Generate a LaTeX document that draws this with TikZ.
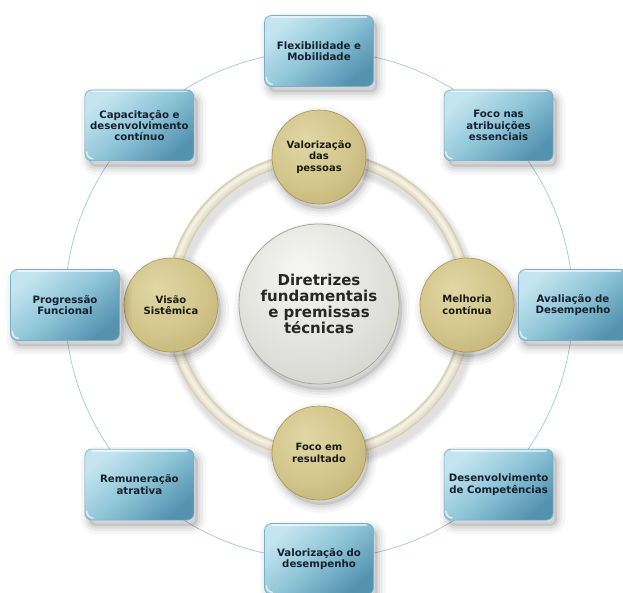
\documentclass[tikz,border=0pt]{standalone}
\usepackage{fontspec}
\setmainfont{DejaVu Sans}
\definecolor{boxlight}{HTML}{C4E5F0}
\definecolor{boxmid}{HTML}{8EC4D7}
\definecolor{boxdark}{HTML}{5493B0}
\definecolor{boxedge}{HTML}{7AB0C6}
\definecolor{boxtext}{HTML}{15202C}
\definecolor{goldin}{HTML}{E0D7A6}
\definecolor{goldmid}{HTML}{D3C68C}
\definecolor{goldout}{HTML}{B09D5A}
\definecolor{goldedge}{HTML}{A5924F}
\definecolor{goldtext}{HTML}{1C1A12}
\definecolor{ringa}{HTML}{D6CFB0}
\definecolor{ringb}{HTML}{F3F0E4}
\definecolor{grayin}{HTML}{F6F6F4}
\definecolor{graymid}{HTML}{DFDFDB}
\definecolor{grayout}{HTML}{BEBEB9}
\definecolor{grayedge}{HTML}{A9A693}
\definecolor{orbit}{HTML}{A9C7D3}
\definecolor{centertext}{HTML}{262626}
\pgfdeclareradialshading{goldball}{\pgfpoint{-8bp}{10bp}}{color(0bp)=(goldin); color(22bp)=(goldmid); color(52bp)=(goldout); color(70bp)=(goldout)}
\pgfdeclareradialshading{grayball}{\pgfpoint{-6bp}{12bp}}{color(0bp)=(grayin); color(25bp)=(graymid); color(56bp)=(grayout); color(72bp)=(grayout)}
\begin{document}
\begin{tikzpicture}[x=1pt,y=1pt,
  softshadow/.style={
    preaction={draw=black, draw opacity=0.035, line width=16pt, transform canvas={shift={(#1)}}},
    preaction={draw=black, draw opacity=0.045, line width=10pt, transform canvas={shift={(#1)}}},
    preaction={draw=black, draw opacity=0.06, line width=5pt, fill=black, fill opacity=0.10, transform canvas={shift={(#1)}}}},
  box/.style={rectangle, rounded corners=7pt, minimum width=109pt, minimum height=71pt,
    inner sep=2pt, softshadow={4pt,-6pt},
    top color=boxlight, bottom color=boxdark, middle color=boxmid, shading angle=40,
    draw=boxedge, line width=0.7pt, align=center, text=boxtext,
    font=\fontsize{10.2}{11.2}\selectfont\bfseries,
    path picture={\draw[white, opacity=0.6, line width=1.6pt, line cap=round]
      ([xshift=7pt,yshift=-1.6pt]path picture bounding box.north west) --
      ([xshift=-7pt,yshift=-1.6pt]path picture bounding box.north east);
      \draw[white, opacity=0.7, line width=1.4pt, line cap=round]
      ([xshift=1.8pt,yshift=9pt]path picture bounding box.south west) to[out=-90,in=180]
      ([xshift=8pt,yshift=2.2pt]path picture bounding box.south west);}},
  gold/.style={circle, minimum size=94pt, inner sep=0pt, softshadow={3pt,-5pt}, shading=goldball,
    draw=goldedge, line width=0.6pt, align=center, text=goldtext,
    font=\fontsize{10}{11.5}\selectfont\bfseries},
  hub/.style={circle, minimum size=160pt, inner sep=0pt, softshadow={3pt,-6pt}, shading=grayball,
    draw=grayedge, line width=0.8pt, align=center, text=centertext,
    font=\fontsize{15}{16}\selectfont\bfseries},
  orbitline/.style={draw=orbit, line width=0.7pt},
  ringshade/.style={draw=black, opacity=0.04}
]
\useasboundingbox (0,0) rectangle (623,593);
\fill[white] (0,0) rectangle (623,593);
\coordinate (C) at (319,288);
% outer orbit
\draw[orbitline] (C) circle[radius=254];
% inner ring shadow
\foreach \w in {22,18,14}{
  \draw[ringshade, line width=\w pt] ([shift={(3,-6)}]C) circle[radius=148];
}
% inner ring tube
\draw[draw=ringa, line width=11pt] (C) circle[radius=148];
\draw[draw=ringb!55!ringa, line width=8pt] (C) circle[radius=148];
\draw[draw=ringb!80!ringa, line width=5pt] ([shift={(-0.3,0.5)}]C) circle[radius=148];
\draw[draw=ringb, line width=2.5pt] ([shift={(-0.6,1)}]C) circle[radius=148];
% centre
\node[hub] (hub) at ([shift={(0,1)}]C) {Diretrizes\\fundamentais\\e premissas\\técnicas};
% gold circles
\node[gold] (g1) at ([shift={(90:148)}]C) {Valorização\\das\\pessoas};
\node[gold] (g2) at ([shift={(0:148)}]C) {Melhoria\\contínua};
\node[gold] (g3) at ([shift={(-90:148)}]C) {Foco em\\resultado};
\node[gold] (g4) at ([shift={(180:148)}]C) {Visão\\Sistêmica};
% boxes
\node[box] (b1) at ([shift={(90:254)}]C) {Flexibilidade e\\Mobilidade};
\node[box] (b2) at ([shift={(45:254)}]C) {Foco nas\\atribuições\\essenciais};
\node[box] (b3) at ([shift={(0:254)}]C) {Avaliação de\\Desempenho};
\node[box] (b4) at ([shift={(-45:254)}]C) {Desenvolvimento\\de Competências};
\node[box] (b5) at ([shift={(-90:254)}]C) {Valorização do\\desempenho};
\node[box] (b6) at ([shift={(-135:254)}]C) {Remuneração\\atrativa};
\node[box] (b7) at ([shift={(180:254)}]C) {Progressão\\Funcional};
\node[box] (b8) at ([shift={(135:254)}]C) {Capacitação e\\desenvolvimento\\contínuo};
\end{tikzpicture}
\end{document}
